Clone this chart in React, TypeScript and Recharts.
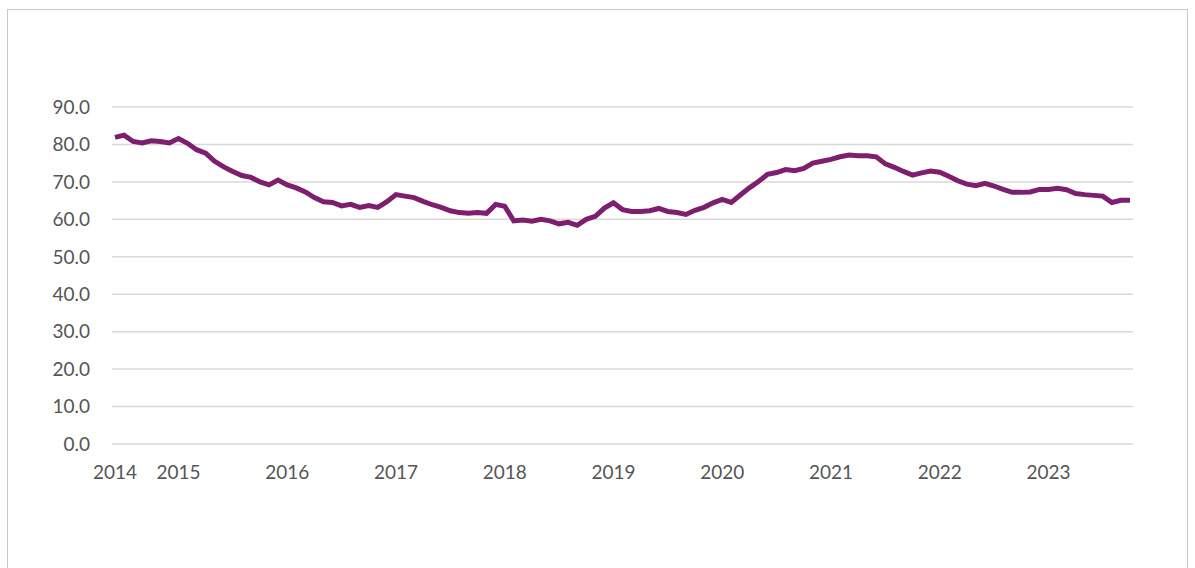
import React from 'react';
import { LineChart, Line, XAxis, YAxis, CartesianGrid } from 'recharts';

// monthly series, Jun 2014 .. Oct 2023
const startYear = 2014;
const startMonth = 6;

const values = [
  81.9, 82.5, 80.8, 80.4, 81.0, 80.8, 80.4,
  81.6, 80.3, 78.6, 77.7, 75.5, 74.0, 72.8, 71.7, 71.2, 70.0, 69.2, 70.5,
  69.2, 68.4, 67.3, 65.8, 64.7, 64.5, 63.6, 64.0, 63.2, 63.7, 63.2, 64.7,
  66.6, 66.2, 65.8, 64.8, 63.9, 63.2, 62.3, 61.8, 61.6, 61.8, 61.6, 64.0,
  63.5, 59.6, 59.8, 59.5, 60.0, 59.6, 58.8, 59.2, 58.4, 60.0, 60.8, 63.0,
  64.4, 62.6, 62.1, 62.1, 62.3, 62.9, 62.1, 61.8, 61.3, 62.4, 63.2, 64.4,
  65.3, 64.5, 66.5, 68.4, 70.1, 72.0, 72.5, 73.3, 73.0, 73.6, 75.0, 75.5,
  76.0, 76.7, 77.2, 77.0, 77.0, 76.7, 74.8, 73.9, 72.8, 71.8, 72.4, 72.9,
  72.6, 71.5, 70.3, 69.4, 69.0, 69.6, 68.9, 68.0, 67.2, 67.2, 67.3, 68.0,
  68.0, 68.3, 67.9, 66.9, 66.6, 66.4, 66.2, 64.5, 65.1, 65.1,
];

const yTicks = [0, 10, 20, 30, 40, 50, 60, 70, 80, 90];

const months = values.map((_, i) => {
  const m = startMonth - 1 + i;
  const y = startYear + Math.floor(m / 12);
  return `${y}-${String((m % 12) + 1).padStart(2, '0')}`;
});

const data = months.map((month, i) => ({ month, value: values[i] }));

// label the first point and every January
const xTicks = months.filter((m, i) => i === 0 || m.endsWith('-01'));

const font = 'Lato, "Open Sans", sans-serif';

export default function App() {
  return (
    <div style={{ position: 'fixed', left: 0, top: 0, width: 1195, height: 568, overflow: 'hidden', background: '#fff' }}>
      <div
        style={{
          position: 'absolute',
          left: 7,
          top: 9,
          width: 1181,
          height: 620,
          border: '1px solid #c8c8c8',
          boxSizing: 'border-box',
        }}
      />
      <div style={{ position: 'absolute', left: 0, top: 0 }}>
        <LineChart
          width={1195}
          height={568}
          data={data}
          margin={{ top: 107, right: 62, bottom: 84, left: 12 }}
        >
          <CartesianGrid vertical={false} stroke="#d9d9d9" strokeWidth={1.5} />
          <XAxis
            dataKey="month"
            ticks={xTicks}
            interval={0}
            tickFormatter={(m: string) => m.slice(0, 4)}
            axisLine={false}
            tickLine={false}
            tickSize={0}
            tickMargin={22}
            height={40}
            padding={{ left: 3, right: 3 }}
            tick={{ fill: '#555555', fontSize: 19, fontFamily: font }}
          />
          <YAxis
            domain={[0, 90]}
            ticks={yTicks}
            tickFormatter={(v: number) => v.toFixed(1)}
            axisLine={false}
            tickLine={false}
            tickSize={0}
            tickMargin={22}
            width={100}
            tick={{ fill: '#555555', fontSize: 19, fontFamily: font }}
          />
          <Line
            type="linear"
            dataKey="value"
            stroke="#7d1f6e"
            strokeWidth={5}
            dot={false}
            isAnimationActive={false}
          />
        </LineChart>
      </div>
    </div>
  );
}
